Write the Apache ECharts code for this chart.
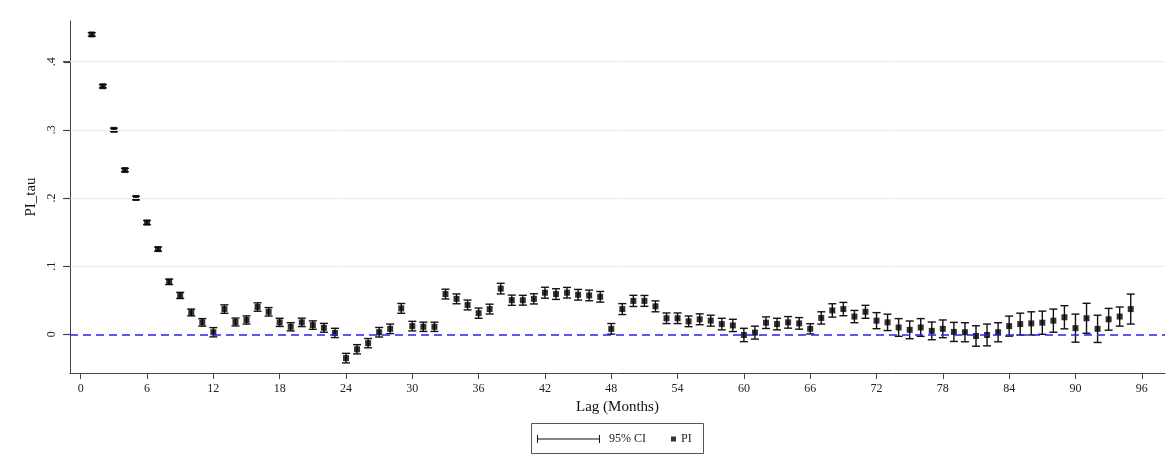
<!DOCTYPE html>
<html>
<head>
<meta charset="utf-8">
<script src="https://cdn.jsdelivr.net/npm/echarts@6/dist/echarts.min.js"></script>
<style>
html,body{margin:0;padding:0;background:#fff;}
#chart{width:1172px;height:474px;}
</style>
</head>
<body>
<div id="chart"></div>
<script>
// Lags (months)
const lags = [];
for (let i = 1; i <= 95; i++) lags.push(i);

// Point estimates PI
const piValues = [
  0.440, 0.364, 0.300, 0.241, 0.200, 0.164, 0.125, 0.077, 0.057, 0.032,
  0.0175, 0.003, 0.037, 0.018, 0.021, 0.040, 0.033, 0.0175, 0.011, 0.0175,
  0.0135, 0.0095, 0.002, -0.035, -0.022, -0.013, 0.003, 0.008, 0.038, 0.012,
  0.011, 0.011, 0.059, 0.052, 0.043, 0.031, 0.037, 0.067, 0.050, 0.050,
  0.052, 0.061, 0.059, 0.061, 0.058, 0.057, 0.055, 0.008, 0.037, 0.049,
  0.049, 0.041, 0.0235, 0.0235, 0.019, 0.022, 0.020, 0.015, 0.013, -0.001,
  0.0025, 0.017, 0.015, 0.0175, 0.016, 0.008, 0.024, 0.035, 0.037, 0.026,
  0.033, 0.020, 0.0175, 0.010, 0.0065, 0.010, 0.005, 0.008, 0.0035, 0.003,
  -0.0025, -0.001, 0.003, 0.012, 0.015, 0.016, 0.017, 0.020, 0.025, 0.009,
  0.0235, 0.008, 0.022, 0.026, 0.037
];

// Half-width of the 95% CI
const ciHalf = [
  0.0025, 0.0025, 0.0025, 0.0025, 0.0027, 0.003, 0.003, 0.004, 0.0045, 0.005,
  0.0055, 0.0068, 0.0062, 0.0058, 0.006, 0.0062, 0.0062, 0.006, 0.006, 0.0062,
  0.0062, 0.0065, 0.0068, 0.007, 0.0068, 0.0068, 0.007, 0.007, 0.0072, 0.007,
  0.0068, 0.0068, 0.0072, 0.0072, 0.0072, 0.0075, 0.0072, 0.0078, 0.0075, 0.0072,
  0.0075, 0.008, 0.0078, 0.0078, 0.0078, 0.0078, 0.0078, 0.0078, 0.008, 0.0082,
  0.008, 0.008, 0.0078, 0.0078, 0.0078, 0.008, 0.008, 0.0085, 0.009, 0.0098,
  0.0095, 0.0085, 0.0085, 0.0085, 0.0085, 0.0075, 0.009, 0.0098, 0.0098, 0.009,
  0.0095, 0.0118, 0.012, 0.013, 0.013, 0.013, 0.013, 0.013, 0.014, 0.014,
  0.015, 0.016, 0.014, 0.0147, 0.016, 0.017, 0.017, 0.017, 0.017, 0.0206,
  0.022, 0.020, 0.016, 0.014, 0.022
];

const xTicks = [0, 6, 12, 18, 24, 30, 36, 42, 48, 54, 60, 66, 72, 78, 84, 90, 96];
const yTicks = [0, 0.1, 0.2, 0.3, 0.4];
const yGridValues = [0.1, 0.2, 0.3, 0.4];

const ciData = lags.map((l, i) => [l, piValues[i] - ciHalf[i], piValues[i] + ciHalf[i]]);
const piData = lags.map((l, i) => [l, piValues[i]]);

const FONT = "'Liberation Serif', 'Times New Roman', serif";
const AXIS_COLOR = '#444';

const chart = echarts.init(document.getElementById('chart'));
chart.setOption({
  backgroundColor: '#ffffff',
  animation: false,
  grid: { left: 70, right: 7, top: 21, bottom: 101, containLabel: false },
  xAxis: {
    type: 'value',
    min: -0.97,
    max: 98.1,
    name: 'Lag (Months)',
    nameLocation: 'middle',
    nameGap: 26,
    nameTextStyle: { fontFamily: FONT, fontSize: 15, color: '#111' },
    axisLine: { show: true, onZero: false, lineStyle: { color: AXIS_COLOR, width: 1 } },
    axisTick: { show: true, length: 6, lineStyle: { color: AXIS_COLOR }, customValues: xTicks },
    axisLabel: { fontFamily: FONT, fontSize: 12, color: '#222', margin: 10, customValues: xTicks },
    splitLine: { show: false }
  },
  yAxis: {
    type: 'value',
    min: -0.0568,
    max: 0.4597,
    name: 'PI_tau',
    nameLocation: 'middle',
    nameRotate: 90,
    nameGap: 22,
    nameTextStyle: { fontFamily: FONT, fontSize: 15, color: '#111' },
    axisLine: { show: true, onZero: false, lineStyle: { color: AXIS_COLOR, width: 1 } },
    axisTick: { show: true, length: 7, lineStyle: { color: AXIS_COLOR }, customValues: yTicks },
    axisLabel: {
      fontFamily: FONT, fontSize: 12, color: '#222', rotate: 90, margin: 12,
      customValues: yTicks,
      formatter: v => (v === 0 ? '0' : String(+v.toFixed(1)).replace(/^0\./, '.'))
    },
    splitLine: { show: false }
  },
  legend: [
    {
      data: [{ name: '95% CI', icon: 'path://M0,0h1v8h-1z M0,3.5h63v1h-63z M62,0h1v8h-1z' }],
      left: 537, top: 433, padding: 0,
      itemWidth: 63, itemHeight: 8, itemGap: 0,
      textStyle: { fontFamily: FONT, fontSize: 12, color: '#222', padding: [0, 0, 0, 4] }
    },
    {
      data: [{ name: 'PI', icon: 'rect' }],
      left: 671, top: 433, padding: 0,
      itemWidth: 5, itemHeight: 5, itemGap: 0,
      textStyle: { fontFamily: FONT, fontSize: 12, color: '#222', padding: [0, 0, 0, 0] }
    }
  ],
  series: [
    {
      type: 'line',
      name: 'refs',
      data: [],
      silent: true,
      z: 1,
      markLine: {
        silent: true,
        symbol: 'none',
        label: { show: false },
        animation: false,
        data: yGridValues.map(v => ({ yAxis: v, lineStyle: { color: '#e6eff0', width: 1, type: 'solid' } }))
          .concat([{ yAxis: 0, lineStyle: { color: '#2222ee', width: 1.6, type: [8, 5] } }])
      }
    },
    {
      type: 'custom',
      name: '95% CI',
      z: 3,
      itemStyle: { color: '#111' },
      encode: { x: 0, y: [1, 2] },
      data: ciData,
      renderItem: function (params, api) {
        const lo = api.coord([api.value(0), api.value(1)]);
        const hi = api.coord([api.value(0), api.value(2)]);
        const w = 4;
        const st = { stroke: '#111', lineWidth: 1.4, fill: 'none' };
        return {
          type: 'group',
          children: [
            { type: 'line', shape: { x1: lo[0], y1: lo[1], x2: hi[0], y2: hi[1] }, style: st },
            { type: 'line', shape: { x1: lo[0] - w, y1: lo[1], x2: lo[0] + w, y2: lo[1] }, style: st },
            { type: 'line', shape: { x1: hi[0] - w, y1: hi[1], x2: hi[0] + w, y2: hi[1] }, style: st }
          ]
        };
      }
    },
    {
      type: 'scatter',
      name: 'PI',
      z: 4,
      symbol: 'rect',
      symbolSize: 6,
      itemStyle: { color: '#000' },
      data: piData
    }
  ]
});

// Legend frame and y-axis tick marks placed through the axis scale
const axisX = Math.round(chart.convertToPixel({ xAxisIndex: 0 }, -0.97)) + 0.5;
const tickGraphics = yTicks.map(v => {
  const py = Math.round(chart.convertToPixel({ yAxisIndex: 0 }, v)) + 0.5;
  return {
    type: 'line', silent: true, z: 100,
    shape: { x1: axisX - 7, y1: py, x2: axisX, y2: py },
    style: { stroke: AXIS_COLOR, lineWidth: 1.2 }
  };
});
chart.setOption({
  graphic: [
    {
      type: 'rect', silent: true,
      shape: { x: 531.5, y: 423.5, width: 172, height: 30 },
      style: { fill: 'none', stroke: '#555', lineWidth: 1 }
    }
  ].concat(tickGraphics)
});
</script>
</body>
</html>
